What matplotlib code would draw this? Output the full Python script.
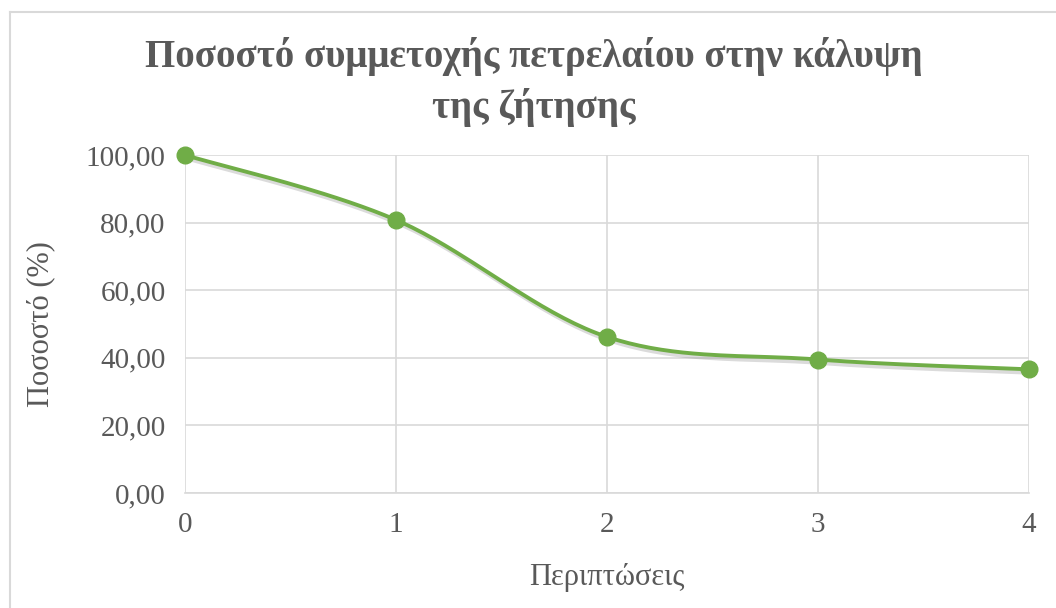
import numpy as np
import matplotlib.pyplot as plt
import matplotlib.patheffects as pe
from matplotlib.ticker import FuncFormatter

cases = [0, 1, 2, 3, 4]
share = [100.0, 80.8, 46.2, 39.5, 36.6]

title = 'Ποσοστό συμμετοχής πετρελαίου στην κάλυψη\nτης ζήτησης'
xlabel = 'Περιπτώσεις'
ylabel = 'Ποσοστό (%)'

green = '#70AD47'
text_gray = '#595959'
grid_gray = '#D9D9D9'


def excel_smooth(x, y, n=40):
  # bezier segments with control points like Excel's smoothed line
  pts = np.column_stack([x, y]).astype(float)
  ext = np.vstack([pts[:1], pts, pts[-1:]])
  t = np.linspace(0, 1, n)[:, None]
  out = []
  for i in range(len(pts) - 1):
    p0, p3 = ext[i + 1], ext[i + 2]
    p1 = p0 + (ext[i + 2] - ext[i]) / 6
    p2 = p3 - (ext[i + 3] - ext[i + 1]) / 6
    out.append((1 - t) ** 3 * p0 + 3 * (1 - t) ** 2 * t * p1 + 3 * (1 - t) * t ** 2 * p2 + t ** 3 * p3)
  out = np.vstack(out)
  return out[:, 0], out[:, 1]


plt.rcParams['font.family'] = ['Liberation Serif', 'DejaVu Serif']

fig = plt.figure(figsize=(10.56, 6.08), dpi=100)
ax = fig.add_axes([0.1752, 0.1891, 0.7992, 0.5559])

# chart border
fig.add_artist(plt.Line2D([10 / 1056, 10 / 1056], [0, 1 - 12 / 608], transform=fig.transFigure, color=grid_gray, lw=1.5))
fig.add_artist(plt.Line2D([10 / 1056, 1], [1 - 12 / 608, 1 - 12 / 608], transform=fig.transFigure, color=grid_gray, lw=1.5))

shadow = [pe.SimpleLineShadow(offset=(1.5, -2.5), shadow_color='#888888', alpha=0.3), pe.Normal()]
sx, sy = excel_smooth(cases, share)
ax.plot(sx, sy, color=green, lw=2.8, solid_capstyle='round', zorder=3, path_effects=shadow)
ax.plot(cases, share, 'o', color=green, mec=green, ms=12, zorder=4, clip_on=False)

ax.set_xlim(0, 4)
ax.set_ylim(0, 100)
ax.set_xticks(cases)
ax.set_yticks(np.arange(0, 101, 20))
ax.yaxis.set_major_formatter(FuncFormatter(lambda v, p: f'{v:.2f}'.replace('.', ',')))
ax.grid(True, color=grid_gray, lw=1.2)
ax.set_axisbelow(True)
for s in ['top', 'right', 'left']:
  ax.spines[s].set_visible(False)
ax.spines['bottom'].set_color(grid_gray)
ax.spines['bottom'].set_linewidth(1.2)
ax.tick_params(length=0, labelsize=21, labelcolor=text_gray)
ax.tick_params(axis='y', pad=14)
ax.tick_params(axis='x', pad=14)

ax.set_xlabel(xlabel, fontsize=22, color=text_gray, labelpad=18)
ax.set_ylabel(ylabel, fontsize=22, color=text_gray, labelpad=22)

fig.text(534 / 1056, 1 - 82 / 608, title, ha='center', va='center', fontsize=28,
         fontweight='bold', color=text_gray, linespacing=1.4)

fig.savefig('out.png', dpi=100)
